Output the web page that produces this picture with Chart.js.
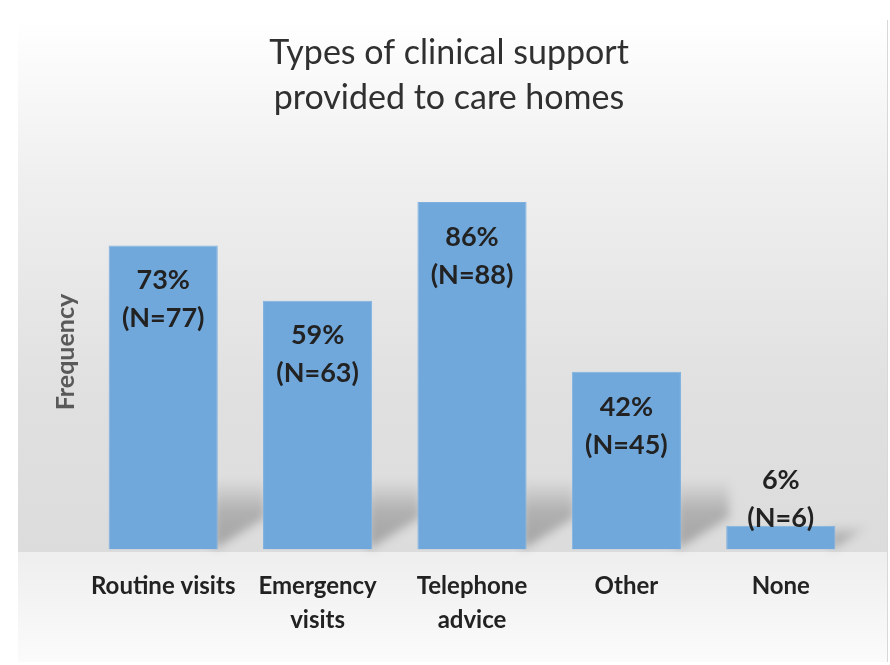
<!DOCTYPE html>
<html>
<head>
<meta charset="utf-8">
<script src="https://cdn.jsdelivr.net/npm/chart.js@4"></script>
<style>
  html, body { margin: 0; padding: 0; background: #ffffff; }
  #wrap { width: 890px; height: 665px; position: relative; }
</style>
</head>
<body>
<div id="wrap"><canvas id="support_chart"></canvas></div>
<script>
const categories = [['Routine visits'], ['Emergency', 'visits'], ['Telephone', 'advice'], ['Other'], ['None']];
const counts = [77, 63, 88, 45, 6];
const percents = [73, 59, 86, 42, 6];
const titleLines = ['Types of clinical support', 'provided to care homes'];

// grey panel with a lighter "floor" under the bars
const panelBackground = {
    id: 'panelBackground',
    beforeDraw(chart) {
        const c = chart.ctx;
        const floorY = chart.chartArea.bottom + 3;
        c.save();
        c.fillStyle = '#ffffff';
        c.fillRect(0, 0, chart.width, chart.height);
        let g = c.createLinearGradient(0, 20, 0, floorY);
        g.addColorStop(0, '#ffffff');
        g.addColorStop(0.3, '#efefef');
        g.addColorStop(0.7, '#e0e0e0');
        g.addColorStop(1, '#dcdcdc');
        c.fillStyle = g;
        c.fillRect(18, 20, 870, floorY - 20);
        g = c.createLinearGradient(0, floorY, 0, 662);
        g.addColorStop(0, '#eeeeee');
        g.addColorStop(1, '#fbfbfb');
        c.fillStyle = g;
        c.fillRect(18, floorY, 870, 662 - floorY);
        c.fillStyle = '#d8d8d8';
        c.fillRect(887, 20, 1, 642);
        c.restore();
    }
};

// soft slanted shadow behind each bar
const barShadows = {
    id: 'barShadows',
    beforeDatasetsDraw(chart) {
        const c = chart.ctx;
        const meta = chart.getDatasetMeta(0);
        c.save();
        c.filter = 'blur(5px)';
        meta.data.forEach(bar => {
            const right = bar.x + bar.width / 2;
            const bottom = bar.base;
            const h = Math.min(70, bottom - bar.y);
            const g = c.createLinearGradient(0, bottom - h, 0, bottom);
            g.addColorStop(0, 'rgba(0,0,0,0)');
            g.addColorStop(0.45, 'rgba(0,0,0,0.2)');
            g.addColorStop(1, 'rgba(0,0,0,0.26)');
            c.fillStyle = g;
            c.beginPath();
            c.moveTo(right - 4, bottom);
            c.lineTo(right - 4, bottom - h);
            c.lineTo(right + 48, bottom - h);
            c.lineTo(right + 48, bottom - 32);
            c.closePath();
            c.fill();
        });
        c.restore();
    }
};

// two line value labels: percentage and N
const valueLabels = {
    id: 'valueLabels',
    afterDatasetsDraw(chart) {
        const c = chart.ctx;
        const meta = chart.getDatasetMeta(0);
        c.save();
        c.font = 'bold 27px Lato';
        c.fillStyle = '#222222';
        c.textAlign = 'center';
        c.textBaseline = 'middle';
        meta.data.forEach((bar, i) => {
            const tall = bar.base - bar.y > 90;
            const y1 = tall ? bar.y + 35 : bar.y - 45;
            c.fillText(percents[i] + '%', bar.x, y1);
            c.fillText('(N=' + counts[i] + ')', bar.x, y1 + 38);
        });
        c.restore();
    }
};

const ctx = document.getElementById('support_chart').getContext('2d');

const supportChart = new Chart(ctx, {
    type: 'bar',
    data: {
        labels: categories,
        datasets: [{
            label: 'Frequency',
            data: counts,
            backgroundColor: '#71a8dc',
            borderColor: '#7fb1e0',
            borderWidth: 1,
            categoryPercentage: 0.707,
            barPercentage: 1.0,
        }],
    },
    options: {
        responsive: true,
        maintainAspectRatio: false,
        animation: false,
        layout: {
            padding: { left: 40, right: 32, top: 18, bottom: 16 }
        },
        scales: {
            x: {
                grid: { display: false },
                border: { display: false },
                ticks: {
                    color: '#222222',
                    padding: 11,
                    maxRotation: 0,
                    autoSkip: false,
                    font: { family: 'Lato', size: 24, weight: 'bold', lineHeight: 1.45 }
                }
            },
            y: {
                min: 0,
                max: 100,
                grid: { display: false },
                border: { display: false },
                ticks: { display: false },
                title: {
                    display: true,
                    text: 'Frequency',
                    color: '#595959',
                    padding: { top: 11, bottom: -3 },
                    font: { family: 'Lato', size: 25, weight: 'bold' }
                }
            }
        },
        plugins: {
            legend: { display: false },
            tooltip: { enabled: false },
            title: {
                display: true,
                text: titleLines,
                color: '#303030',
                padding: { top: 13, bottom: 34 },
                font: { family: 'Lato', size: 34, weight: 'normal', lineHeight: 1.32 }
            }
        }
    },
    plugins: [panelBackground, barShadows, valueLabels]
});
</script>
</body>
</html>
